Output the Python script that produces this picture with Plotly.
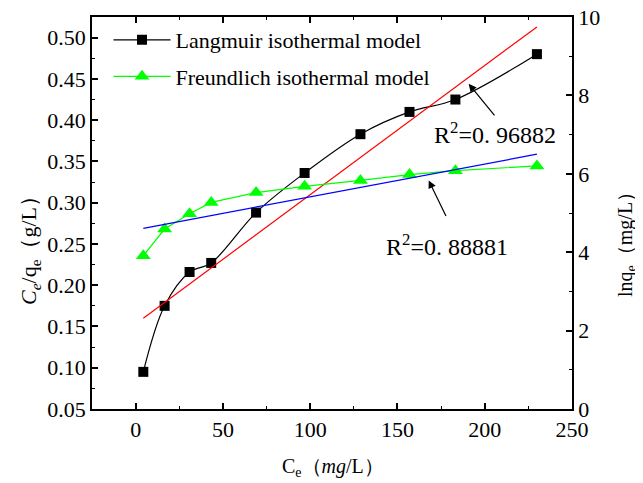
import plotly.graph_objects as go

# equilibrium concentration Ce (mg/L)
ce = [4.4, 16.6, 30.9, 43.3, 69.0, 96.8, 128.8, 156.9, 183.2, 229.9]
# Langmuir: Ce/qe (g/L), left axis
langmuir = [0.095, 0.175, 0.216, 0.227, 0.288, 0.336, 0.383, 0.410, 0.425, 0.480]
# Freundlich: ln qe, right axis
freundlich = [3.91, 4.59, 4.98, 5.27, 5.52, 5.68, 5.83, 5.98, 6.08, 6.20]

# linear fit end points
fit_x = [4.4, 229.9]
langmuir_fit = [0.160, 0.513]
freundlich_fit = [4.61, 6.50]

FONT = "Liberation Serif"
GREEN = "#00ff00"

fig = go.Figure()

fig.add_trace(go.Scatter(
    x=ce, y=langmuir, mode="lines+markers", name="Langmuir isothermal model",
    line=dict(color="black", width=1.2, shape="spline", smoothing=1),
    marker=dict(symbol="square", size=10, color="black"),
    legend="legend"
))
fig.add_trace(go.Scatter(
    x=fit_x, y=langmuir_fit, mode="lines", showlegend=False,
    line=dict(color="red", width=1.2)
))
fig.add_trace(go.Scatter(
    x=ce, y=freundlich, mode="lines+markers", name="Freundlich isothermal model",
    line=dict(color=GREEN, width=1.2),
    marker=dict(symbol="triangle-up", size=13, color=GREEN),
    yaxis="y2", legend="legend2"
))
fig.add_trace(go.Scatter(
    x=fit_x, y=freundlich_fit, mode="lines", showlegend=False,
    line=dict(color="blue", width=1.2), yaxis="y2"
))

tick = dict(ticks="inside", ticklen=6, tickwidth=1.5, tickcolor="black",
            showline=True, linecolor="black", linewidth=1.5,
            showgrid=False, zeroline=False, automargin=False,
            ticklabeloverflow="allow",
            tickfont=dict(family=FONT, size=22, color="black"))
minor = dict(ticks="inside", ticklen=3, tickwidth=1.2, tickcolor="black")

# page has an 8px body margin, so the figure is drawn 8px in from the corner
W, H = 635, 475
ML, MR, MT, MB = 84, 71, 9, 74
pw, ph = W - ML - MR, H - MT - MB


def px(xp):
    # page pixel x -> paper x
    return (xp - 8 - ML) / pw


def py(yp):
    # page pixel y -> paper y
    return (H + 8 - MB - yp) / ph


fig.update_layout(
    width=W, height=H,
    margin=dict(l=ML, r=MR, t=MT, b=MB),
    plot_bgcolor="white", paper_bgcolor="white",
    font=dict(family=FONT, size=22, color="black"),
    xaxis=dict(range=[-25, 250], tickvals=[0, 50, 100, 150, 200, 250],
               mirror="ticks", minor=dict(dtick=25, **minor), **tick),
    yaxis=dict(range=[0.05, 0.525], dtick=0.05, tick0=0.05, tickformat=".2f",
               minor=dict(dtick=0.025, **minor), **tick),
    yaxis2=dict(range=[-0.0001, 10.0001], tickvals=[0, 2, 4, 6, 8, 10],
                overlaying="y", side="right",
                minor=dict(tickvals=[1, 3, 5, 7, 9], **minor), **tick),
    legend=dict(x=px(108.5), y=py(19), xanchor="left", yanchor="top", itemwidth=57,
                bgcolor="rgba(0,0,0,0)", font=dict(family=FONT, size=22)),
    legend2=dict(x=px(108.5), y=py(55.5), xanchor="left", yanchor="top", itemwidth=57,
                 bgcolor="rgba(0,0,0,0)", font=dict(family=FONT, size=22)),
    annotations=[
        dict(text="<i>C</i><sub><i>e</i></sub>/q<sub>e</sub>（g/L）", textangle=-90,
             x=px(30), y=py(245), xref="paper", yref="paper", showarrow=False,
             xanchor="center", yanchor="middle", font=dict(size=22)),
        dict(text="lnq<sub>e</sub>（mg/L）", textangle=-90,
             x=px(626), y=py(240), xref="paper", yref="paper", showarrow=False,
             xanchor="center", yanchor="middle", font=dict(size=20)),
        dict(text="C<sub>e</sub>（<i>mg</i>/L）",
             x=px(333), y=py(467), xref="paper", yref="paper", showarrow=False,
             xanchor="center", yanchor="middle", font=dict(size=20)),
        dict(text="R<sup>2</sup>=0. 96882", x=205.7, y=0.385, xref="x", yref="y",
             showarrow=False, font=dict(size=24)),
        dict(text="R<sup>2</sup>=0. 88881", x=178.2, y=0.249, xref="x", yref="y",
             showarrow=False, font=dict(size=24)),
        dict(text="", x=190.8, y=0.444, ax=206.3, ay=0.404, xref="x", yref="y",
             axref="x", ayref="y", showarrow=True, arrowhead=2, arrowsize=1.3,
             arrowwidth=1.2, arrowcolor="black"),
        dict(text="", x=167.9, y=0.327, ax=178.2, ay=0.282, xref="x", yref="y",
             axref="x", ayref="y", showarrow=True, arrowhead=2, arrowsize=1.3,
             arrowwidth=1.2, arrowcolor="black"),
    ],
)

fig.write_html("out.html")
